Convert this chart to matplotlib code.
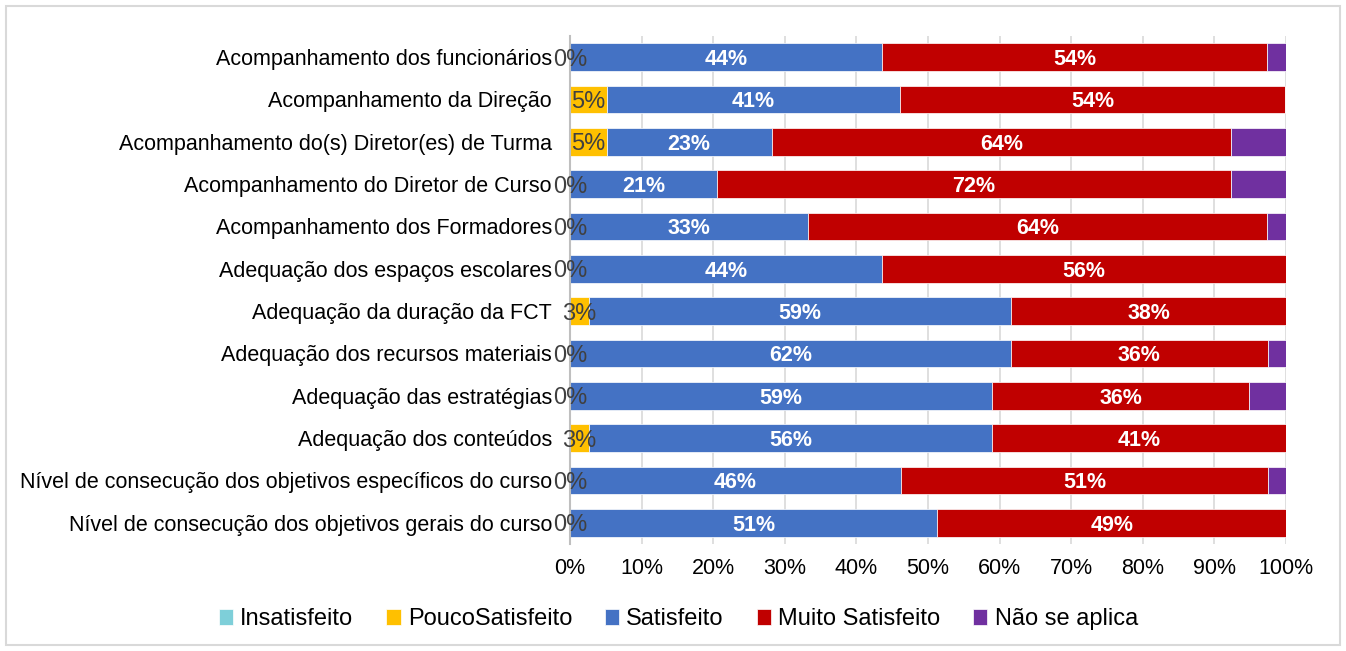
"""Stacked horizontal bar chart of satisfaction levels per item."""

import numpy as np
import matplotlib

matplotlib.use("Agg")
import matplotlib.pyplot as plt
from matplotlib.patches import Rectangle

plt.rcParams["font.family"] = ["Liberation Sans", "DejaVu Sans"]

categories = [
    "Acompanhamento dos funcionários",
    "Acompanhamento da Direção",
    "Acompanhamento do(s) Diretor(es) de Turma",
    "Acompanhamento do Diretor de Curso",
    "Acompanhamento dos Formadores",
    "Adequação dos espaços escolares",
    "Adequação da duração da FCT",
    "Adequação dos recursos materiais",
    "Adequação das estratégias",
    "Adequação dos conteúdos",
    "Nível de consecução dos objetivos específicos do curso",
    "Nível de consecução dos objetivos gerais do curso",
]

series_names = ["Insatisfeito", "PoucoSatisfeito", "Satisfeito", "Muito Satisfeito", "Não se aplica"]
colors = ["#7ECFD9", "#FFC000", "#4472C4", "#C00000", "#7030A0"]

insatisfeito = [0, 0, 0, 0, 0, 0, 0, 0, 0, 0, 0, 0]
pouco = [0, 5.1, 5.1, 0, 0, 0, 2.6, 0, 0, 2.6, 0, 0]
satisfeito = [43.6, 41.0, 23.1, 20.51, 33.3, 43.6, 59.0, 61.54, 59.0, 56.4, 46.2, 51.3]
muito = [53.8, 53.8, 64.1, 71.8, 64.1, 56.4, 38.46, 35.9, 35.9, 41.0, 51.3, 48.7]
nao_aplica = [2.6, 0, 7.7, 7.7, 2.6, 0, 0, 2.6, 5.1, 0, 2.6, 0]

data = [insatisfeito, pouco, satisfeito, muito, nao_aplica]

fig = plt.figure(figsize=(13.46, 6.51), dpi=100)
ax = fig.add_axes([0.4235, 0.1644, 0.5319, 0.7803])

y = np.arange(len(categories))
left = np.zeros(len(categories))
bar_h = 0.66

for i, (name, vals, col) in enumerate(zip(series_names, data, colors)):
    vals = np.array(vals, dtype=float)
    ax.barh(y, vals, left=left, height=bar_h, color=col, label=name,
            edgecolor="white", linewidth=0.5)
    centers = left + vals / 2
    if i == 1:
        for yc, xc, v in zip(y, centers, vals):
            ax.text(xc, yc, f"{v:.0f}%", ha="center", va="center_baseline",
                    fontsize=17, color="#404040")
    elif i in (2, 3):
        for yc, xc, v in zip(y, centers, vals):
            ax.text(xc, yc, f"{v:.0f}%", ha="center", va="center_baseline",
                    fontsize=15.5, color="white", fontweight="bold")
    left += vals

ax.set_xlim(0, 100)
ax.set_ylim(len(categories) - 0.5, -0.5)
ax.set_yticks(y)
ax.set_yticklabels(categories, fontsize=15.5)
ax.set_xticks(np.arange(0, 101, 10))
ax.set_xticklabels([f"{t}%" for t in range(0, 101, 10)], fontsize=15.5)
ax.tick_params(axis="both", length=0)
ax.tick_params(axis="y", pad=13)
ax.tick_params(axis="x", pad=10)
ax.grid(True, axis="x", color="#D9D9D9", linewidth=1.2)
ax.set_axisbelow(True)
for side in ["top", "right", "bottom"]:
    ax.spines[side].set_visible(False)
ax.spines["left"].set_color("#BFBFBF")
ax.spines["left"].set_linewidth(1.5)

fig.legend(loc="center", bbox_to_anchor=(0.504, 0.049), ncol=5, frameon=False,
           fontsize=17, handlelength=0.6, handleheight=0.7, handletextpad=0.3,
           columnspacing=1.4)

fig.patches.append(Rectangle((6 / 1346, 6 / 651), 1334 / 1346, 639 / 651,
                             transform=fig.transFigure, fill=False,
                             edgecolor="#D9D9D9", linewidth=1.5))

plt.savefig("out.png", dpi=100)
plt.close()
